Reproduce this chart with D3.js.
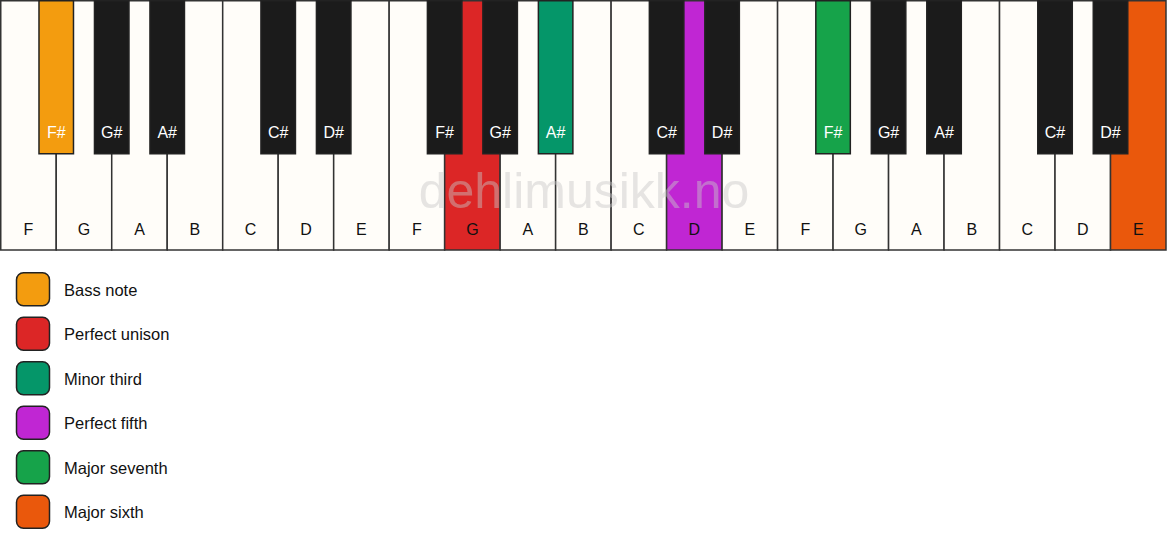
<!DOCTYPE html>
<html>
<head>
<meta charset="utf-8">
<script src="https://cdn.jsdelivr.net/npm/d3@7"></script>
<style>
    body { margin: 0; background: #fff; }
    svg text { font-family: "Liberation Sans", Arial, sans-serif; }
</style>
</head>
<body>
<svg id="piano" width="1167" height="550"></svg>
<script>
// keyboard data
const whiteNotes = ["F", "G", "A", "B", "C", "D", "E"];
const blackNotes = ["F#", "G#", "A#", "C#", "D#"];
const blackAfter = ["F", "G", "A", "C", "D"]; // white key each black key sits after
const octaves = [0, 1, 2];

// highlighted keys: note, octave, interval
const highlightNotes = ["F#", "G", "A#", "D", "F#", "E"];
const highlightOctaves = [0, 1, 1, 1, 2, 2];
const intervals = ["Bass note", "Perfect unison", "Minor third", "Perfect fifth", "Major seventh", "Major sixth"];
const intervalColors = ["#f39c0f", "#dc2626", "#059669", "#c026d3", "#16a34a", "#ea580c"];

const svg = d3.select("svg#piano");
const margin = { top: 0, left: 0 };
const kbWidth = 1166;
const kbHeight = 250;
const blackHeight = 153;

const whiteKeys = [];
octaves.forEach(o => whiteNotes.forEach(n => whiteKeys.push({ note: n, octave: o, id: n + o })));
const blackKeys = [];
octaves.forEach(o => blackNotes.forEach((n, i) => blackKeys.push({ note: n, octave: o, id: blackAfter[i] + o })));

const colorOf = function (d) {
    for (let i = 0; i < highlightNotes.length; i++) {
        if (highlightNotes[i] === d.note && highlightOctaves[i] === d.octave) return intervalColors[i];
    }
    return null;
};

const keyScale = d3.scaleBand().domain(whiteKeys.map(d => d.id)).range([0.75, kbWidth]);
const kw = keyScale.bandwidth();
const bw = 34.5;

const keyboard = svg.append("g").attr("transform", `translate(${margin.left},${margin.top})`);

// white keys
keyboard.selectAll("rect.white").data(whiteKeys)
    .join("rect").attr("class", "white")
    .attr("x", d => keyScale(d.id))
    .attr("y", 0.75)
    .attr("width", kw)
    .attr("height", kbHeight - 0.75)
    .attr("fill", d => colorOf(d) || "#fffdf9")
    .attr("stroke", "#333")
    .attr("stroke-width", 1.5);

keyboard.selectAll("text.white").data(whiteKeys)
    .join("text").attr("class", "white")
    .attr("x", d => keyScale(d.id) + kw / 2)
    .attr("y", 231)
    .attr("text-anchor", "middle")
    .attr("dominant-baseline", "middle")
    .attr("font-size", 16)
    .attr("fill", "#111")
    .text(d => d.note);

// watermark
keyboard.append("text")
    .attr("x", kbWidth / 2 + 1)
    .attr("y", 195)
    .attr("text-anchor", "middle")
    .attr("dominant-baseline", "middle")
    .attr("font-size", 50)
    .attr("fill", "#c8c8c8")
    .attr("opacity", 0.45)
    .text("dehlimusikk.no");

// black keys
keyboard.selectAll("rect.black").data(blackKeys)
    .join("rect").attr("class", "black")
    .attr("x", d => keyScale(d.id) + kw - bw / 2)
    .attr("y", 0.75)
    .attr("width", bw)
    .attr("height", blackHeight)
    .attr("fill", d => colorOf(d) || "#1b1b1b")
    .attr("stroke", "#222")
    .attr("stroke-width", 1.5);

keyboard.selectAll("text.black").data(blackKeys)
    .join("text").attr("class", "black")
    .attr("x", d => keyScale(d.id) + kw)
    .attr("y", 134)
    .attr("text-anchor", "middle")
    .attr("dominant-baseline", "middle")
    .attr("font-size", 16)
    .attr("fill", "#fff")
    .text(d => d.note);

// legend
const legendScale = d3.scaleBand().domain(intervals).range([267, 534]);
const legend = svg.append("g").attr("id", "legend");
legend.selectAll("rect").data(intervals)
    .join("rect")
    .attr("x", 16.5)
    .attr("y", d => legendScale(d) + legendScale.bandwidth() / 2 - 16.5)
    .attr("width", 33)
    .attr("height", 33)
    .attr("rx", 7)
    .attr("fill", (d, i) => intervalColors[i])
    .attr("stroke", "#222")
    .attr("stroke-width", 1.5);
legend.selectAll("text").data(intervals)
    .join("text")
    .attr("x", 64)
    .attr("y", d => legendScale(d) + legendScale.bandwidth() / 2 + 2)
    .attr("dominant-baseline", "middle")
    .attr("font-size", 16.5)
    .attr("fill", "#111")
    .text(d => d);
</script>
</body>
</html>
